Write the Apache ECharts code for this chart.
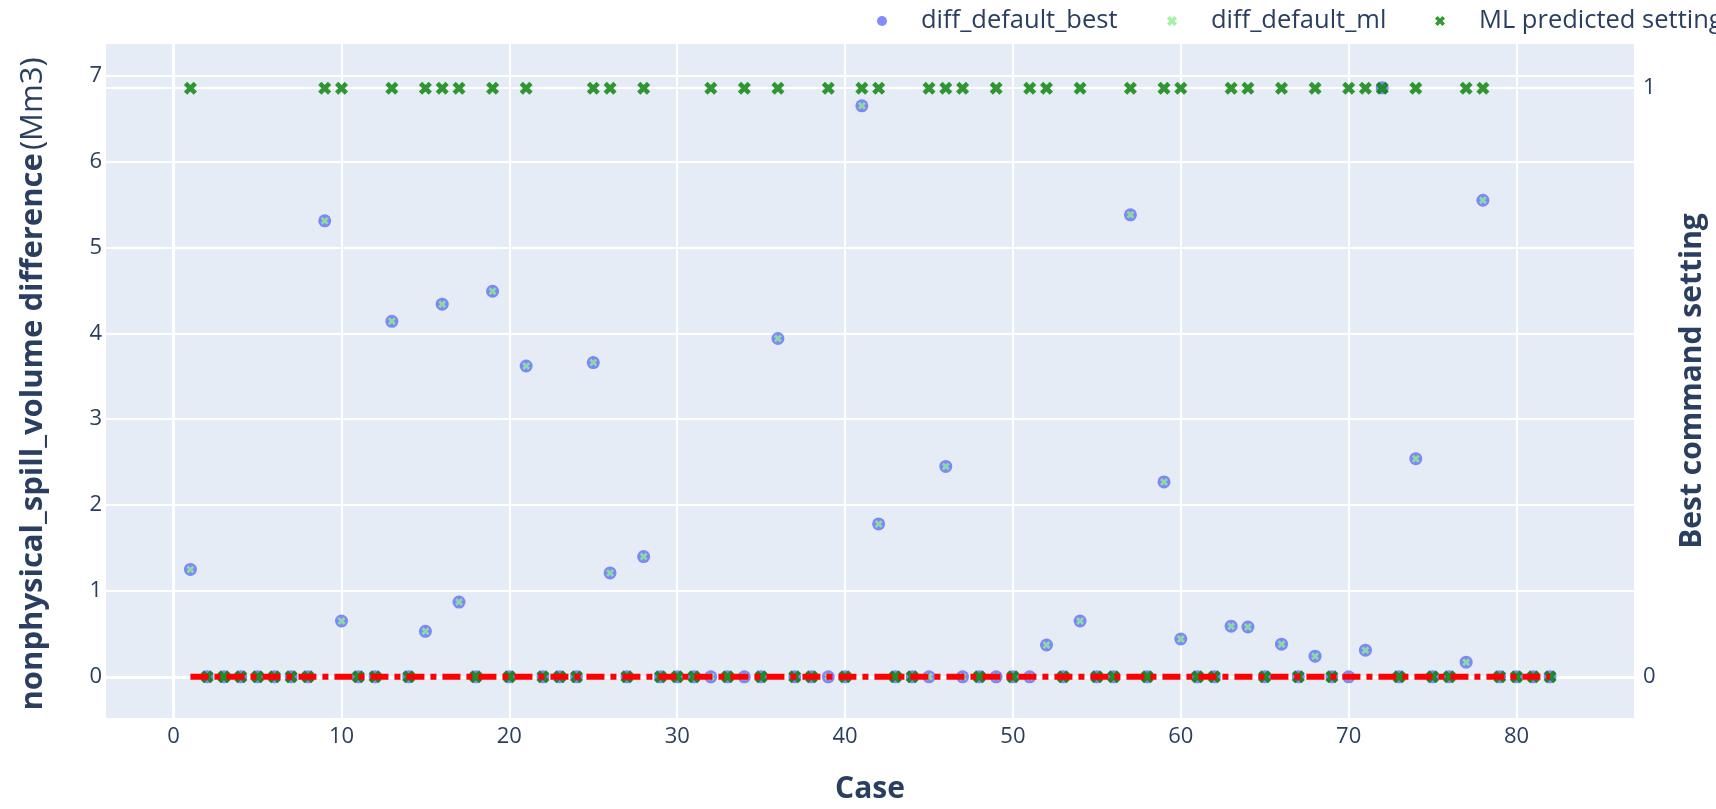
<!DOCTYPE html>
<html>
<head>
<meta charset="utf-8">
<script src="https://cdn.jsdelivr.net/npm/echarts@6/dist/echarts.min.js"></script>
<style>
  html, body { margin: 0; padding: 0; background: #fff; }
  #grafica { width: 1716px; height: 809px; }
</style>
</head>
<body>
<div id="grafica"></div>
<script>
const cases = [
  1, 2, 3, 4, 5, 6, 7, 8, 9, 10, 11, 12, 13, 14, 15, 16, 17, 18, 19, 20,
  21, 22, 23, 24, 25, 26, 27, 28, 29, 30, 31, 32, 33, 34, 35, 36, 37, 38, 39, 40,
  41, 42, 43, 44, 45, 46, 47, 48, 49, 50, 51, 52, 53, 54, 55, 56, 57, 58, 59, 60,
  61, 62, 63, 64, 65, 66, 67, 68, 69, 70, 71, 72, 73, 74, 75, 76, 77, 78, 79, 80,
  81, 82,
];
// diferencia de volumen (Mm3) entre default y best
const diffDefaultBest = [
  1.25, 0, 0, 0, 0, 0, 0, 0, 5.31, 0.65, 0, 0, 4.14, 0, 0.53, 4.34, 0.87, 0, 4.49, 0,
  3.62, 0, 0, 0, 3.66, 1.21, 0, 1.4, 0, 0, 0, 0, 0, 0, 0, 3.94, 0, 0, 0, 0,
  6.65, 1.78, 0, 0, 0, 2.45, 0, 0, 0, 0, 0, 0.37, 0, 0.65, 0, 0, 5.38, 0, 2.27, 0.44,
  0, 0, 0.59, 0.58, 0, 0.38, 0, 0.24, 0, 0, 0.31, 6.86, 0, 2.54, 0, 0, 0.17, 5.55, 0, 0,
  0, 0,
];
const diffDefaultMl = [
  1.25, 0, 0, 0, 0, 0, 0, 0, 5.31, 0.65, 0, 0, 4.14, 0, 0.53, 4.34, 0.87, 0, 4.49, 0,
  3.62, 0, 0, 0, 3.66, 1.21, 0, 1.4, 0, 0, 0, 0, 0, 0, 0, 3.94, 0, 0, 0, 0,
  6.65, 1.78, 0, 0, 0, 2.45, 0, 0, 0, 0, 0, 0.37, 0, 0.65, 0, 0, 5.38, 0, 2.27, 0.44,
  0, 0, 0.59, 0.58, 0, 0.38, 0, 0.24, 0, 0, 0.31, 6.86, 0, 2.54, 0, 0, 0.17, 5.55, 0, 0,
  0, 0,
];
// setting predicho por el modelo (eje derecho)
const mlPredicted = [
  1, 0, 0, 0, 0, 0, 0, 0, 1, 1, 0, 0, 1, 0, 1, 1, 1, 0, 1, 0,
  1, 0, 0, 0, 1, 1, 0, 1, 0, 0, 0, 1, 0, 1, 0, 1, 0, 0, 1, 0,
  1, 1, 0, 0, 1, 1, 1, 0, 1, 0, 1, 1, 0, 1, 0, 0, 1, 0, 1, 1,
  0, 0, 1, 1, 0, 1, 0, 1, 0, 1, 1, 1, 0, 1, 0, 0, 1, 1, 0, 0,
  0, 0,
];
// linea de referencia en cero
const zeroLine = [
  [1, 0],
  [82, 0],
];

const FONT = '"Open Sans", verdana, arial, sans-serif';
const TXT = "#2a3f5f";
// simbolo "x" grueso estilo plotly
const XSYM = "path://M0,1L1,2L2,1L1,0L2,-1L1,-2L0,-1L-1,-2L-2,-1L-1,0L-2,1L-1,2Z";

const pairs = (ys) => cases.map((c, i) => [c, ys[i]]);

// una leyenda por item para fijar la posicion de cada uno
const legendItem = (name, left, textWidth) => ({
  left: left,
  top: 8,
  padding: 0,
  itemWidth: 68,
  itemHeight: 10,
  data: [name],
  textStyle: textWidth
    ? { fontFamily: FONT, fontSize: 25.5, color: TXT, width: textWidth, overflow: "truncate", ellipsis: "" }
    : { fontFamily: FONT, fontSize: 25.5, color: TXT },
});

const option = {
  animation: false,
  backgroundColor: "#ffffff",
  textStyle: { fontFamily: FONT, color: TXT },
  grid: {
    left: 106,
    right: 82,
    top: 44,
    bottom: 81,
    show: true,
    backgroundColor: "#E5ECF6",
    borderWidth: 0,
  },
  legend: [
    legendItem("diff_default_best", 877),
    legendItem("diff_default_ml", 1167),
    legendItem("ML predicted setting", 1435, 250), // cortada por el borde como en el original
  ],
  xAxis: {
    type: "value",
    min: -4.03,
    max: 87,
    minInterval: 10,
    maxInterval: 10,
    splitNumber: 9,
    name: "Case",
    nameLocation: "middle",
    nameGap: 56,
    nameTextStyle: { fontFamily: FONT, fontSize: 30, fontWeight: "bold", color: TXT },
    axisLine: { show: false },
    axisTick: { show: false },
    axisLabel: {
      fontFamily: FONT,
      fontSize: 22,
      color: TXT,
      margin: 8,
      showMinLabel: false,
      showMaxLabel: false,
    },
    splitLine: {
      show: true,
      showMinLine: false,
      showMaxLine: false,
      lineStyle: { color: "#ffffff", width: 2 },
    },
  },
  yAxis: [
    {
      type: "value",
      min: -0.48,
      max: 7.37,
      minInterval: 1,
      maxInterval: 1,
      splitNumber: 8,
      name: "{b|nonphysical_spill_volume difference} {n|(Mm3)}",
      nameLocation: "middle",
      nameGap: 57,
      nameTextStyle: {
        color: TXT,
        padding: [0, 6, 0, 0],
        rich: {
          b: { fontFamily: FONT, fontSize: 31, fontWeight: "bold", color: TXT },
          n: { fontFamily: FONT, fontSize: 31, fontWeight: "normal", color: TXT },
        },
      },
      axisLine: { show: false },
      axisTick: { show: false },
      axisLabel: {
        fontFamily: FONT,
        fontSize: 22,
        color: TXT,
        margin: 4,
        showMinLabel: false,
        showMaxLabel: false,
      },
      splitLine: {
        show: true,
        showMinLine: false,
        showMaxLine: false,
        lineStyle: { color: "#ffffff", width: 2 },
      },
    },
    {
      type: "value",
      position: "right",
      min: -0.07,
      max: 1.075,
      minInterval: 1,
      maxInterval: 1,
      name: "Best command setting",
      nameLocation: "middle",
      nameGap: 43,
      nameTextStyle: { fontFamily: FONT, fontSize: 30, fontWeight: "bold", color: TXT },
      axisLine: { show: false },
      axisTick: { show: false },
      axisLabel: {
        fontFamily: FONT,
        fontSize: 22,
        color: TXT,
        margin: 9,
        showMinLabel: false,
        showMaxLabel: false,
      },
      splitLine: {
        show: true,
        showMinLine: false,
        showMaxLine: false,
        lineStyle: { color: "#ffffff", width: 2 },
      },
    },
  ],
  series: [
    {
      name: "diff_default_best",
      type: "scatter",
      yAxisIndex: 0,
      data: pairs(diffDefaultBest),
      symbol: "circle",
      symbolSize: 13,
      itemStyle: { color: "#636efa", opacity: 0.8 },
      z: 3,
      // lineas de cero (zeroline) de plotly
      markLine: {
        silent: true,
        symbol: "none",
        label: { show: false },
        lineStyle: { color: "#ffffff", width: 3, type: "solid" },
        data: [{ yAxis: 0 }, { xAxis: 0 }],
        z: 1,
      },
    },
    {
      name: "diff_default_ml",
      type: "scatter",
      yAxisIndex: 0,
      data: pairs(diffDefaultMl),
      symbol: XSYM,
      symbolSize: 8,
      itemStyle: { color: "#90ee90" },
      z: 4,
    },
    {
      name: "ML predicted setting",
      type: "scatter",
      yAxisIndex: 1,
      data: pairs(mlPredicted),
      symbol: XSYM,
      symbolSize: 13,
      itemStyle: { color: "#008000" },
      z: 5,
    },
    {
      name: "zero",
      type: "line",
      yAxisIndex: 0,
      data: zeroLine,
      showSymbol: false,
      symbol: "none",
      lineStyle: { color: "#ff0000", width: 6, type: [18, 6, 6, 6] },
      z: 6,
    },
  ],
};

const myChart = echarts.init(document.querySelector("#grafica"));
myChart.setOption(option);
</script>
</body>
</html>
